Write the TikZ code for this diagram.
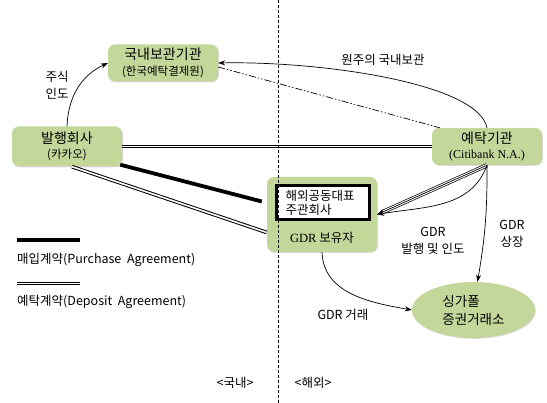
\documentclass[tikz,border=0pt]{standalone}
\usepackage{fontspec}
\setmainfont{Noto Sans CJK KR}
\newfontfamily\serifrm{Liberation Serif}
\usetikzlibrary{shapes.geometric, arrows.meta, shadows, positioning}
\definecolor{boxgreen}{RGB}{196,215,155}
\newcommand{\titlesize}{\fontsize{14}{15.5}\selectfont}
\newcommand{\subsize}{\fontsize{11.5}{13}\selectfont}
\newcommand{\labsize}{\fontsize{12.5}{17}\selectfont}
\tikzstyle{greenbox} = [rectangle, rounded corners=7pt, minimum width=110pt, minimum height=37pt, text centered, align=center, fill=boxgreen, inner sep=2pt, font=\titlesize, drop shadow={shadow xshift=0.8pt, shadow yshift=-0.8pt, opacity=0.3}]
\tikzstyle{market} = [ellipse, minimum width=123pt, minimum height=56pt, align=left, fill=boxgreen, inner sep=0pt, font=\fontsize{13.5}{18}\selectfont, drop shadow={shadow xshift=0.8pt, shadow yshift=-0.8pt, opacity=0.3}]
\tikzstyle{leadbox} = [rectangle, draw=black, line width=3pt, fill=white, minimum width=93pt, minimum height=34pt, text width=74pt, align=left, inner sep=0pt, font=\fontsize{12.5}{14}\selectfont]
\tikzstyle{lbl} = [font=\labsize, align=center]
\tikzstyle{arrow} = [line width=0.7pt, ->, >={Stealth[length=7pt,width=5pt]}]
\tikzstyle{purchase} = [line width=3.8pt]
\tikzstyle{deposit} = [line width=1pt, double, double distance=1.6pt]
\tikzstyle{custody} = [line width=0.7pt, dash pattern=on 7pt off 2pt on 1.5pt off 2pt on 1.5pt off 2pt]
\tikzstyle{border} = [line width=0.7pt, dash pattern=on 3pt off 2pt]

\begin{document}
\begin{tikzpicture}[x=1pt, y=1pt]
\useasboundingbox (0,0) rectangle (547,403);

% boxes
\node (depo) [greenbox] at (163,340) {국내보관기관\\{\subsize (한국예탁결제원)}};
\node (issuer) [greenbox, minimum height=40pt] at (67,256.5) {발행회사\\{\subsize (카카오)}};
\node (bank) [greenbox] at (487,256.5) {예탁기관\\{\serifrm\fontsize{12}{13}\selectfont (Citibank N.A.)}};
\node (holder) [greenbox, minimum height=75pt] at (322,188.5) {};
\node (lead) [leadbox] at (322.5,200.5) {해외공동대표\\주관회사};
\node (holdertxt) [font=\fontsize{12.5}{14}\selectfont] at (322,165) {{\serifrm GDR} 보유자};
\node (sgx) [market] at (473.5,93) {싱가폴\\증권거래소};

% labels
\node (share) [lbl] at (57,317.5) {주식\\인도};
\node (orig) [lbl] at (383,343) {원주의 국내보관};
\node (issue) [lbl] at (433,162) {GDR\\발행 및 인도};
\node (list) [lbl] at (512,169) {GDR\\상장};
\node (trade) [lbl] at (343,88) {GDR 거래};
\node (dom) [lbl] at (235,20) {<국내>};
\node (ovs) [lbl] at (313,20) {<해외>};

% connectors
\draw [arrow] (issuer.north) to[out=88, in=205] (depo.west);
\draw [arrow] (bank.north) .. controls (478,320) and (320,342) .. (depo.east);
\draw [custody] ([yshift=-4pt]depo.east) -- ([xshift=8pt]bank.north west);
\draw [deposit] (issuer.east) -- (bank.west);
\draw [purchase] ([xshift=-2pt,yshift=2pt]issuer.south east) -- ([xshift=-5pt,yshift=13pt]holder.west);
\draw [deposit] ([xshift=5pt]issuer.south) -- ([yshift=-18pt]holder.west);
\draw [deposit, line width=0.7pt, double distance=2.8pt, shorten >=5pt] (bank.south) -- (holder.east);
\draw [arrow] (bank.south) -- (holder.east);
\draw [arrow] (bank.south) to[out=-110, in=10] (holder.east);
\draw [arrow] (bank.south) to[bend left=5] ([xshift=4pt]sgx.north);
\draw [arrow] (holder.south) to[out=-88, in=170] (sgx.west);

% legend
\coordinate (pa-a) at (17,163);
\coordinate (pa-b) at (80,163);
\draw [purchase] (pa-a) -- (pa-b);
\node (pa) [lbl, anchor=west, inner sep=0pt] at (17,143) {매입계약(Purchase\ \ Agreement)};
\coordinate (da-a) at (17,119.5);
\coordinate (da-b) at (80,119.5);
\draw [deposit] (da-a) -- (da-b);
\node (da) [lbl, anchor=west, inner sep=0pt] at (17,101) {예탁계약(Deposit\ \ Agreement)};

% domestic / overseas divider
\coordinate (div-t) at (278,403);
\coordinate (div-b) at (278,0);
\draw [border] (div-t) -- (div-b);

\end{tikzpicture}
\end{document}
